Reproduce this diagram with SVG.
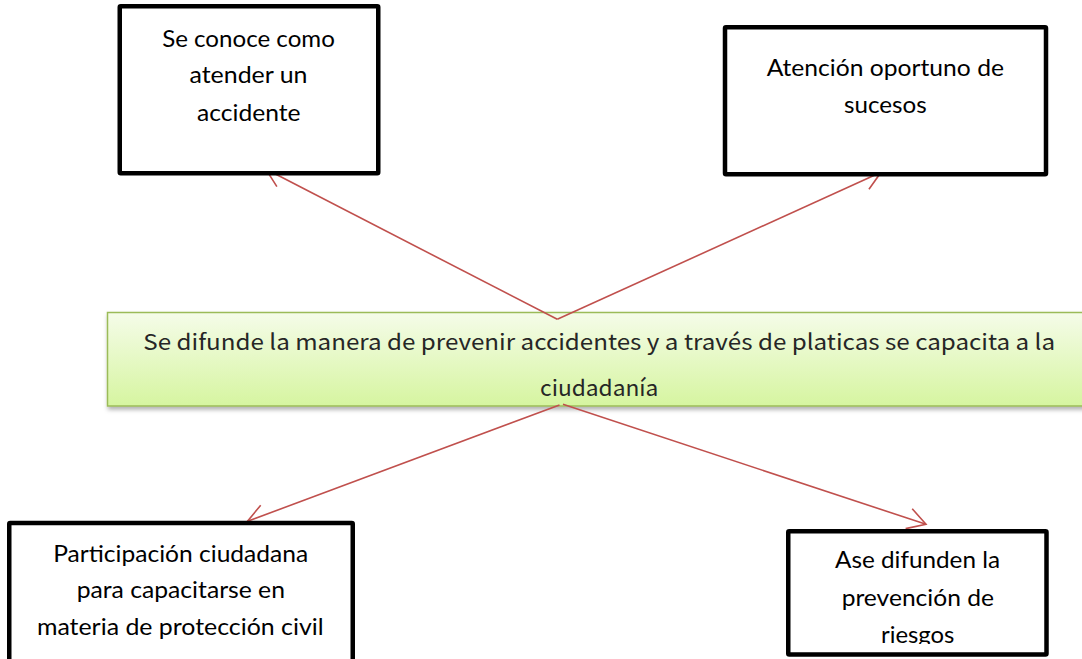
<svg xmlns="http://www.w3.org/2000/svg" width="1082" height="659" viewBox="0 0 1082 659">
  <style>
    .box { fill: #ffffff; stroke: #000000; stroke-width: 4.5; }
    .bt { font-family: Lato, "Noto Sans", sans-serif; font-size: 22.5px; fill: #000000; text-anchor: middle; }
    .ct { font-family: "Noto Sans CJK JP", "Noto Sans", sans-serif; font-size: 22px; fill: #262626; text-anchor: middle; }
    .conn { stroke: #c0504d; stroke-width: 1.6; fill: none; }
  </style>
  <defs>
    <linearGradient id="greenGrad" x1="0" y1="0" x2="0" y2="1">
      <stop offset="0" stop-color="#f5fce9"/>
      <stop offset="1" stop-color="#d6f5a0"/>
    </linearGradient>
    <filter id="shadow" x="-5%" y="-20%" width="110%" height="150%">
      <feDropShadow dx="1" dy="3" stdDeviation="2" flood-color="#000000" flood-opacity="0.3"/>
    </filter>
    <marker id="arrow" markerUnits="userSpaceOnUse" markerWidth="40" markerHeight="40" refX="0" refY="0" viewBox="-25 -20 30 40" orient="auto" overflow="visible">
      <path d="M-18,-10.5 L0,0 L-18,10.5" stroke="#c0504d" stroke-width="1.6" fill="none"/>
    </marker>
    <clipPath id="clip4">
      <rect x="790" y="533" width="256" height="111"/>
    </clipPath>
  </defs>
  <rect width="1082" height="659" fill="#ffffff"/>

  <g id="center">
    <rect x="107.5" y="312.5" width="1000" height="93.5" fill="url(#greenGrad)" stroke="#9bbb59" stroke-width="1.5" filter="url(#shadow)"/>
    <text class="ct" x="599.2" y="350" textLength="911.7" lengthAdjust="spacingAndGlyphs">Se difunde la manera de prevenir accidentes y a través de platicas se capacita a la</text>
    <text class="ct" x="599.2" y="396" textLength="118.3" lengthAdjust="spacingAndGlyphs">ciudadanía</text>
  </g>

  <g id="connectors">
    <line class="conn" x1="557.3" y1="319.3" x2="265.7" y2="169" marker-end="url(#arrow)"/>
    <line class="conn" x1="557.3" y1="319.3" x2="881" y2="172.3" marker-end="url(#arrow)"/>
    <line class="conn" x1="559.5" y1="405" x2="247.5" y2="521.3" marker-end="url(#arrow)"/>
    <line class="conn" x1="563" y1="404.3" x2="926" y2="524.3" marker-end="url(#arrow)"/>
  </g>

  <g id="box1">
    <rect class="box" x="119.75" y="6.25" width="258.5" height="167" rx="1"/>
    <text class="bt" x="248.5" y="46.5" textLength="172.7" lengthAdjust="spacingAndGlyphs">Se conoce como</text>
    <text class="bt" x="248.5" y="83.3" textLength="118" lengthAdjust="spacingAndGlyphs">atender un</text>
    <text class="bt" x="248.8" y="120.5" textLength="103.4" lengthAdjust="spacingAndGlyphs">accidente</text>
  </g>

  <g id="box2">
    <rect class="box" x="725" y="27.25" width="321" height="147" rx="1"/>
    <text class="bt" x="885.3" y="76" textLength="237.3" lengthAdjust="spacingAndGlyphs">Atención oportuno de</text>
    <text class="bt" x="885.3" y="112.7" textLength="82.7" lengthAdjust="spacingAndGlyphs">sucesos</text>
  </g>

  <g id="box3">
    <rect class="box" x="9.25" y="523" width="343.5" height="150" rx="1"/>
    <text class="bt" x="180.7" y="561.7" textLength="255" lengthAdjust="spacingAndGlyphs">Participación ciudadana</text>
    <text class="bt" x="180.8" y="598.3" textLength="208.3" lengthAdjust="spacingAndGlyphs">para capacitarse en</text>
    <text class="bt" x="180.3" y="635" textLength="286.7" lengthAdjust="spacingAndGlyphs">materia de protección civil</text>
  </g>

  <g id="box4">
    <rect class="box" x="788.25" y="531.25" width="258.25" height="123.25" rx="1"/>
    <g clip-path="url(#clip4)">
      <text class="bt" x="917.5" y="568.3" textLength="165" lengthAdjust="spacingAndGlyphs">Ase difunden la</text>
      <text class="bt" x="917.8" y="606" textLength="152.3" lengthAdjust="spacingAndGlyphs">prevención de</text>
      <text class="bt" x="917.7" y="643" textLength="73.3" lengthAdjust="spacingAndGlyphs">riesgos</text>
    </g>
  </g>
</svg>
